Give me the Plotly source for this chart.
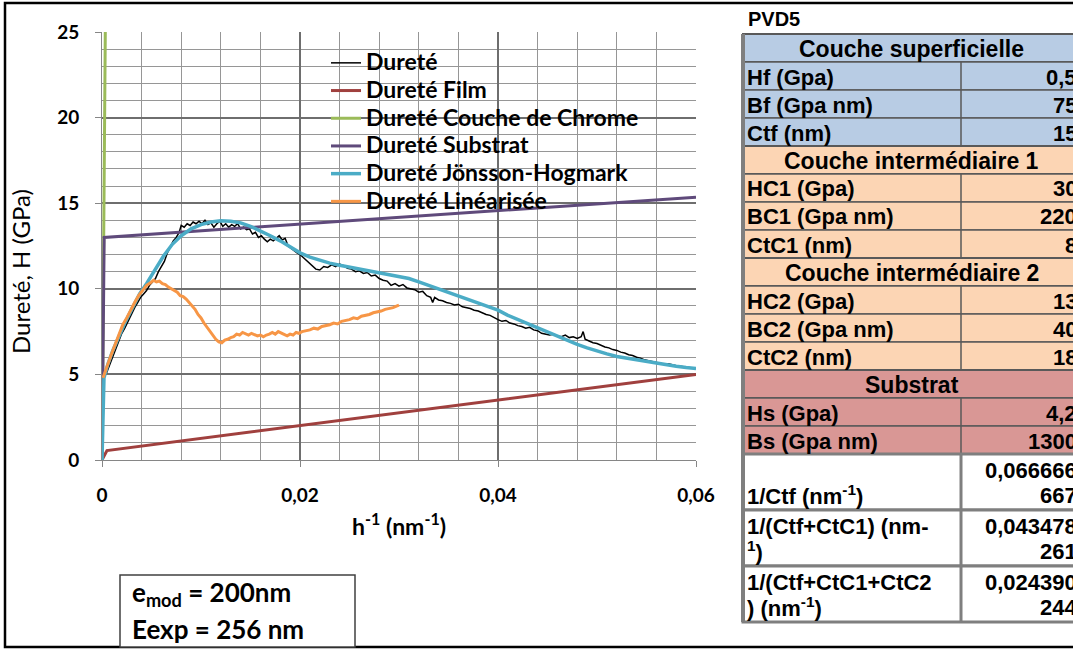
import plotly.graph_objects as go

# ---- data (x = 1/h in nm^-1, y = hardness in GPa) ----
durete_x = [0.0004, 0.0008, 0.0012, 0.0016, 0.0020, 0.0023, 0.0027, 0.0030, 0.0033, 0.0036,
            0.0039, 0.0042, 0.0045, 0.0048, 0.0051, 0.0054, 0.0057, 0.0060, 0.0063, 0.0066,
            0.0069, 0.0072, 0.0075, 0.0078, 0.0080, 0.0083, 0.0086, 0.0089, 0.0092, 0.0095,
            0.0098, 0.0101, 0.0104, 0.0107, 0.0110, 0.0113, 0.0116, 0.0119, 0.0122, 0.0125,
            0.0128, 0.0131, 0.0134, 0.0137, 0.0140, 0.0143, 0.0146, 0.0149, 0.0152, 0.0155,
            0.0158, 0.0161, 0.0164, 0.0167, 0.0170, 0.0173, 0.0176, 0.0179, 0.0182, 0.0185,
            0.0188, 0.0191, 0.0194, 0.0197, 0.0200, 0.0204, 0.0208, 0.0212, 0.0216, 0.0220,
            0.0224, 0.0228, 0.0232, 0.0236, 0.0240, 0.0244, 0.0248, 0.0252, 0.0256, 0.0260,
            0.0264, 0.0268, 0.0272, 0.0276, 0.0280, 0.0284, 0.0288, 0.0292, 0.0296, 0.0300,
            0.0304, 0.0308, 0.0312, 0.0316, 0.0320, 0.0324, 0.0328, 0.0332, 0.0334, 0.0336,
            0.0340, 0.0344, 0.0348, 0.0352, 0.0356, 0.0360, 0.0364, 0.0368, 0.0372, 0.0376,
            0.0380, 0.0384, 0.0388, 0.0392, 0.0396, 0.0400, 0.0404, 0.0408, 0.0412, 0.0416,
            0.0420, 0.0424, 0.0428, 0.0432, 0.0436, 0.0440, 0.0444, 0.0448, 0.0452, 0.0456,
            0.0460, 0.0464, 0.0468, 0.0472, 0.0476, 0.0480, 0.0484, 0.0486, 0.0488, 0.0492,
            0.0496, 0.0500, 0.0504, 0.0508, 0.0512, 0.0516, 0.0520, 0.0524, 0.0528, 0.0532,
            0.0536, 0.0540, 0.0544, 0.0548, 0.0552, 0.0556, 0.0560, 0.0564, 0.0568, 0.0572,
            0.0576, 0.0580, 0.0584, 0.0588, 0.0592, 0.0596, 0.0600]
durete_y = [5.0, 5.6, 6.3, 6.9, 7.4, 7.7, 8.2, 8.5, 8.9, 9.2,
            9.5, 9.7, 9.9, 10.2, 10.4, 10.6, 11.0, 11.3, 11.6, 12.1,
            12.5, 12.8, 13.0, 13.3, 13.7, 13.6, 13.8, 13.7, 13.9, 13.8,
            13.95, 13.8, 14.0, 13.75, 13.85, 13.6, 13.8, 13.95, 13.65, 13.8,
            13.6, 13.75, 13.65, 13.8, 13.5, 13.6, 13.45, 13.5, 13.2, 13.3,
            13.0, 13.1, 12.9, 12.75, 12.9, 12.8, 12.95, 13.1, 12.85, 12.95,
            12.5, 12.35, 12.2, 12.1, 12.0, 11.8, 11.6, 11.4, 11.15, 11.1,
            11.3, 11.25, 11.4, 11.3, 11.45, 11.35, 11.2, 11.15, 11.0, 11.05,
            10.9, 10.95, 10.75, 10.8, 10.6, 10.5, 10.45, 10.2, 10.3, 10.15,
            10.25, 10.05, 10.0, 9.95, 9.8, 9.85, 9.6, 9.5, 9.2, 9.5,
            9.35, 9.3, 9.2, 9.15, 9.05, 9.1, 8.95, 8.9, 8.85, 8.75,
            8.7, 8.6, 8.5, 8.45, 8.3, 8.2, 8.1, 8.15, 8.0, 7.95,
            7.85, 7.8, 7.7, 7.75, 7.6, 7.55, 7.4, 7.35, 7.3, 7.35,
            7.25, 7.2, 7.3, 7.15, 7.2, 7.1, 7.2, 7.5, 7.05, 6.95,
            6.85, 6.8, 6.7, 6.6, 6.55, 6.45, 6.4, 6.3, 6.25, 6.15,
            6.1, 6.0, 5.95, 5.85, 5.8, 5.75, 5.7, 5.65, 5.6, 5.62,
            5.55, 5.5, 5.48, 5.45, 5.42, 5.4, 5.35]

film_x = [0, 0.0005, 0.06]
film_y = [0, 0.55, 5.0]

chrome_x = [0, 0.0004, 0.0015]
chrome_y = [0, 30.1, 30.3]

substrat_x = [0, 0.00022, 0.06]
substrat_y = [0, 13.0, 15.35]

jh_x = [0, 0.0002, 0.0006, 0.0011, 0.0017, 0.0023, 0.0030, 0.0038, 0.0045, 0.0053,
        0.0062, 0.0071, 0.0080, 0.0090, 0.0100, 0.0110, 0.0120, 0.0130, 0.0140, 0.0150,
        0.0160, 0.0170, 0.0180, 0.0190, 0.0200, 0.0210, 0.0220, 0.0230, 0.0240, 0.0250,
        0.0260, 0.0270, 0.0280, 0.0290, 0.0300, 0.0310, 0.0320, 0.0330, 0.0340, 0.0350,
        0.0360, 0.0370, 0.0380, 0.0390, 0.0400, 0.0410, 0.0420, 0.0430, 0.0440, 0.0450,
        0.0460, 0.0470, 0.0480, 0.0490, 0.0500, 0.0510, 0.0520, 0.0530, 0.0540, 0.0550,
        0.0560, 0.0570, 0.0580, 0.0590, 0.0600]
jh_y = [0, 4.8, 5.6, 6.4, 7.2, 8.0, 8.8, 9.7, 10.3, 11.1,
        11.9, 12.6, 13.1, 13.5, 13.75, 13.9, 13.97, 13.95, 13.85, 13.65,
        13.4, 13.1, 12.8, 12.45, 12.1, 11.85, 11.65, 11.5, 11.38, 11.27,
        11.15, 11.05, 10.95, 10.85, 10.75, 10.6, 10.4, 10.2, 10.0, 9.8,
        9.6, 9.4, 9.15, 8.95, 8.75, 8.45, 8.2, 7.95, 7.75, 7.45,
        7.25, 7.0, 6.75, 6.55, 6.35, 6.2, 6.05, 5.95, 5.85, 5.75,
        5.65, 5.55, 5.47, 5.4, 5.35]

lin_x = [0.0001, 0.0005, 0.0009, 0.0013, 0.0017, 0.0021, 0.0025, 0.0029, 0.0033, 0.0037,
         0.0041, 0.0045, 0.0049, 0.0052, 0.0055, 0.0058, 0.0061, 0.0064, 0.0067, 0.0070,
         0.0073, 0.0076, 0.0079, 0.0082, 0.0085, 0.0088, 0.0091, 0.0094, 0.0097, 0.0100,
         0.0103, 0.0106, 0.0109, 0.0112, 0.0115, 0.0118, 0.0121, 0.0124, 0.0127, 0.0130,
         0.0133, 0.0136, 0.0139, 0.0142, 0.0145, 0.0148, 0.0151, 0.0154, 0.0157, 0.0160,
         0.0163, 0.0166, 0.0169, 0.0172, 0.0175, 0.0178, 0.0181, 0.0184, 0.0187, 0.0190,
         0.0193, 0.0196, 0.0199, 0.0202, 0.0206, 0.0210, 0.0214, 0.0218, 0.0222, 0.0226,
         0.0230, 0.0234, 0.0238, 0.0242, 0.0246, 0.0250, 0.0254, 0.0258, 0.0262, 0.0266,
         0.0270, 0.0274, 0.0278, 0.0282, 0.0286, 0.0290, 0.0294, 0.0298, 0.0300]
lin_y = [4.8, 5.5, 6.1, 6.7, 7.3, 7.9, 8.3, 8.8, 9.2, 9.6,
         9.9, 10.2, 10.35, 10.5, 10.4, 10.45, 10.3, 10.25, 10.1, 10.0,
         9.9, 9.8, 9.6, 9.55, 9.4, 9.2, 9.05, 8.8, 8.5, 8.3,
         8.0, 7.75, 7.5, 7.25, 7.05, 6.9, 6.85, 7.0, 7.05, 7.15,
         7.2, 7.35, 7.3, 7.45, 7.35, 7.3, 7.4, 7.3, 7.25, 7.3,
         7.2, 7.3, 7.35, 7.45, 7.35, 7.5, 7.4, 7.3, 7.25, 7.35,
         7.3, 7.45, 7.4, 7.5, 7.55, 7.6, 7.7, 7.65, 7.8, 7.85,
         7.9, 8.0, 7.95, 8.1, 8.15, 8.2, 8.3, 8.25, 8.4, 8.45,
         8.5, 8.6, 8.65, 8.7, 8.8, 8.85, 8.9, 9.0, 9.05]

# table on the right
section_titles = ["Couche superficielle", "Couche intermédiaire 1", "Couche intermédiaire 2", "Substrat"]
section_colors = ["#B8CCE4", "#FCD5B4", "#FCD5B4", "#D99795"]
param_names = [["Hf (Gpa)", "Bf (Gpa nm)", "Ctf (nm)"],
               ["HC1 (Gpa)", "BC1 (Gpa nm)", "CtC1 (nm)"],
               ["HC2 (Gpa)", "BC2 (Gpa nm)", "CtC2 (nm)"],
               ["Hs (Gpa)", "Bs (Gpa nm)"]]
param_values = [["0,5", "75", "15"],
                ["30", "220", "8"],
                ["13", "40", "18"],
                ["4,2", "1300"]]
inverse_names = [["", "1/Ctf (nm<sup>-1</sup>)"],
                 ["1/(Ctf+CtC1) (nm-", "<sup>1</sup>)"],
                 ["1/(Ctf+CtC1+CtC2", ") (nm<sup>-1</sup>)"]]
inverse_values = [["0,066666", "667"],
                  ["0,043478", "261"],
                  ["0,024390", "244"]]

# ---- geometry helpers (pixel -> paper) ----
W, H = 1073, 650
X0, X1 = 102, 696
Y0, Y1 = 32, 460


def px(x):
    return (x - X0) / (X1 - X0)


def py(y):
    return (Y1 - y) / (Y1 - Y0)


CHART_FONT = "Lato, Calibri, sans-serif"
TABLE_FONT = "Liberation Sans, Arial, sans-serif"

fig = go.Figure()


def leg(name):
    # bigger text than the legend font so the rows stay as tight as in Excel
    return '<span style="font-size:23px">' + name + '</span>'


fig.add_trace(go.Scatter(x=durete_x, y=durete_y, mode="lines", name=leg("Dureté"),
                         line=dict(color="#000000", width=1.5)))
fig.add_trace(go.Scatter(x=film_x, y=film_y, mode="lines", name=leg("Dureté Film"),
                         line=dict(color="#A0403E", width=3)))
fig.add_trace(go.Scatter(x=chrome_x, y=chrome_y, mode="lines", name=leg("Dureté Couche de Chrome"),
                         line=dict(color="#9BBB59", width=3)))
fig.add_trace(go.Scatter(x=substrat_x, y=substrat_y, mode="lines", name=leg("Dureté Substrat"),
                         line=dict(color="#5F4A7B", width=3)))
fig.add_trace(go.Scatter(x=jh_x, y=jh_y, mode="lines", name=leg("Dureté Jönsson-Hogmark"),
                         line=dict(color="#4BACC6", width=3.5)))
fig.add_trace(go.Scatter(x=lin_x, y=lin_y, mode="lines", name=leg("Dureté Linéarisée"),
                         line=dict(color="#F79646", width=3)))

shapes = []
annotations = []

# outer frame
shapes.append(dict(type="rect", xref="paper", yref="paper", x0=px(5), x1=px(1090), y0=py(647), y1=py(3),
                   line=dict(color="#000000", width=2.5), fillcolor="rgba(0,0,0,0)"))

# info box bottom-left
shapes.append(dict(type="rect", xref="paper", yref="paper", x0=px(120), x1=px(355), y0=py(647), y1=py(575),
                   line=dict(color="#404040", width=1.5), fillcolor="white"))
annotations.append(dict(xref="paper", yref="paper", x=px(130), y=py(593), xanchor="left", yanchor="middle",
                        text="<b>e<sub>mod</sub> = 200nm</b>", showarrow=False,
                        font=dict(family=CHART_FONT, size=26, color="black")))
annotations.append(dict(xref="paper", yref="paper", x=px(130), y=py(629), xanchor="left", yanchor="middle",
                        text="<b>Eexp = 256 nm</b>", showarrow=False,
                        font=dict(family=CHART_FONT, size=26, color="black")))

# axis titles
annotations.append(dict(xref="paper", yref="paper", x=px(20), y=py(272), xanchor="center", yanchor="middle",
                        text="Dureté, H (GPa)", textangle=-90, showarrow=False,
                        font=dict(family=CHART_FONT, size=24, color="black")))
annotations.append(dict(xref="paper", yref="paper", x=px(399), y=py(524), xanchor="center", yanchor="middle",
                        text="<b>h<sup>-1</sup> (nm<sup>-1</sup>)</b>", showarrow=False,
                        font=dict(family=CHART_FONT, size=23, color="black")))

# table
TL, TD, TR = 743, 961, 1081
TOP, RH = 34, 28
line_col = "#595959"
annotations.append(dict(xref="paper", yref="paper", x=px(746), y=py(19), xanchor="left", yanchor="middle",
                        text="<b>PVD5</b>", showarrow=False,
                        font=dict(family=TABLE_FONT, size=20, color="black")))


def cell_text(x, y, txt, anchor, size=22):
    if not txt:
        return
    annotations.append(dict(xref="paper", yref="paper", x=px(x), y=py(y), xanchor=anchor, yanchor="middle",
                            text="<b>" + txt + "</b>", showarrow=False,
                            font=dict(family=TABLE_FONT, size=size, color="black")))


y = TOP
for title, color, names, vals in zip(section_titles, section_colors, param_names, param_values):
    shapes.append(dict(type="rect", xref="paper", yref="paper", x0=px(TL), x1=px(TR), y0=py(y + RH), y1=py(y),
                       fillcolor=color, line=dict(color=line_col, width=2)))
    cell_text((TL + TR) / 2, y + RH / 2 + 1, title, "center", 23)
    y += RH
    for n, v in zip(names, vals):
        shapes.append(dict(type="rect", xref="paper", yref="paper", x0=px(TL), x1=px(TR), y0=py(y + RH), y1=py(y),
                           fillcolor=color, line=dict(color=line_col, width=1.5)))
        cell_text(TL + 2, y + RH / 2 + 1, n, "left")
        cell_text(TR - 2, y + RH / 2 + 1, v, "right")
        y += RH
    # column divider for the parameter rows
    shapes.append(dict(type="line", xref="paper", yref="paper", x0=px(TD), x1=px(TD),
                       y0=py(y), y1=py(y - RH * len(names)), line=dict(color=line_col, width=1.5)))

for names, vals in zip(inverse_names, inverse_values):
    shapes.append(dict(type="rect", xref="paper", yref="paper", x0=px(TL), x1=px(TR), y0=py(y + 2 * RH), y1=py(y),
                       fillcolor="white", line=dict(color="#7F7F7F", width=3)))
    shapes.append(dict(type="line", xref="paper", yref="paper", x0=px(TD), x1=px(TD),
                       y0=py(y + 2 * RH), y1=py(y), line=dict(color="#7F7F7F", width=3)))
    for k in range(2):
        cell_text(TL + 2, y + 16 + k * 25, names[k], "left")
        cell_text(TR - 2, y + 16 + k * 25, vals[k], "right")
    y += 2 * RH

# thick left border of the table
shapes.append(dict(type="line", xref="paper", yref="paper", x0=px(TL), x1=px(TL), y0=py(y), y1=py(TOP),
                   line=dict(color="#7F7F7F", width=4)))

fig.update_layout(
    width=W, height=H,
    margin=dict(l=X0, r=W - X1, t=Y0, b=H - Y1),
    paper_bgcolor="white", plot_bgcolor="white",
    separators=", ",
    showlegend=True,
    legend=dict(x=px(326), y=py(44), xanchor="left", yanchor="top", bgcolor="rgba(0,0,0,0)",
                font=dict(family=CHART_FONT, size=19, color="black", weight="bold"),
                itemwidth=30),
    shapes=shapes,
    annotations=annotations,
    xaxis=dict(range=[0, 0.06], dtick=0.02, tick0=0, showgrid=True, gridcolor="#6E6E6E", gridwidth=1.5,
               minor=dict(tick0=0, dtick=0.004, showgrid=True, gridcolor="#969696", gridwidth=1.3),
               showline=True, linecolor="#868686", linewidth=1, zeroline=False,
               ticks="outside", ticklen=6, tickcolor="#868686", ticklabelstandoff=12,
               tickfont=dict(family=CHART_FONT, size=19, color="black", weight="bold")),
    yaxis=dict(range=[0, 25], dtick=5, tick0=0, showgrid=True, gridcolor="#6E6E6E", gridwidth=1.5,
               minor=dict(tick0=0, dtick=1, showgrid=True, gridcolor="#969696", gridwidth=1.3),
               showline=True, linecolor="#868686", linewidth=1, zeroline=False,
               ticks="outside", ticklen=6, tickcolor="#868686", ticklabelstandoff=12,
               tickfont=dict(family=CHART_FONT, size=19, color="black", weight="bold")),
)

fig.write_html("out.html", config={"displayModeBar": False},
               post_script="document.body.style.margin='0';")
